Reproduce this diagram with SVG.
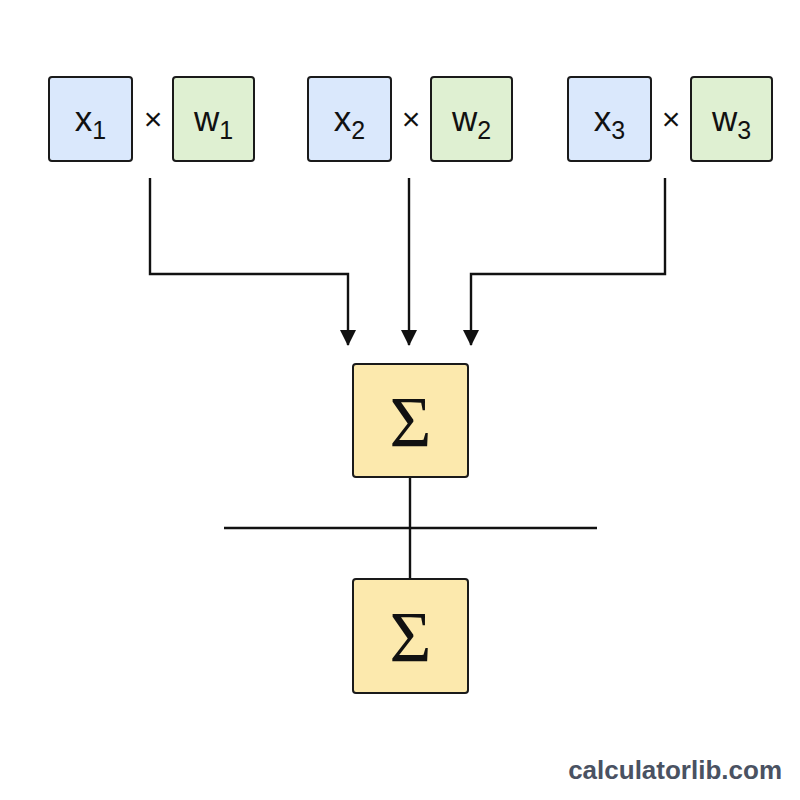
<svg xmlns="http://www.w3.org/2000/svg" width="800" height="800" viewBox="0 0 800 800">
<style>
.box{stroke:#1a1a1a;stroke-width:2}
.x{fill:#dae8fc}
.w{fill:#dff0d2}
.s{fill:#fce9ad}
.lbl{font-family:"Liberation Sans",Arial,sans-serif;font-size:35px;fill:#111}
.sub{font-size:25px}
.times{font-family:"Liberation Sans",Arial,sans-serif;font-size:32px;fill:#111}
.sig{font-family:"Liberation Serif","Times New Roman",serif;font-size:72px;fill:#111}
.ln{stroke:#111;stroke-width:2.4;fill:none}
</style>
<defs>
<marker id="ah" markerWidth="16" markerHeight="16" refX="15" refY="8" orient="auto" markerUnits="userSpaceOnUse">
<path d="M0,0 L16,8 L0,16 Z" fill="#111"/>
</marker>
</defs>
<rect width="800" height="800" fill="#ffffff"/>
<g id="x1"><rect class="box x" x="49" y="77" width="83" height="84" rx="3"/><text class="lbl" x="90.5" y="131" text-anchor="middle">x<tspan class="sub" dy="8">1</tspan></text></g>
<g id="w1"><rect class="box w" x="173" y="77" width="81" height="84" rx="3"/><text class="lbl" x="213.5" y="131" text-anchor="middle">w<tspan class="sub" dy="8">1</tspan></text></g>
<g id="x2"><rect class="box x" x="308" y="77" width="83" height="84" rx="3"/><text class="lbl" x="349.5" y="131" text-anchor="middle">x<tspan class="sub" dy="8">2</tspan></text></g>
<g id="w2"><rect class="box w" x="431" y="77" width="81" height="84" rx="3"/><text class="lbl" x="471.5" y="131" text-anchor="middle">w<tspan class="sub" dy="8">2</tspan></text></g>
<g id="x3"><rect class="box x" x="568" y="77" width="83" height="84" rx="3"/><text class="lbl" x="609.5" y="131" text-anchor="middle">x<tspan class="sub" dy="8">3</tspan></text></g>
<g id="w3"><rect class="box w" x="691" y="77" width="81" height="84" rx="3"/><text class="lbl" x="731.5" y="131" text-anchor="middle">w<tspan class="sub" dy="8">3</tspan></text></g>
<g id="ops">
<text class="times" x="153" y="130" text-anchor="middle">×</text>
<text class="times" x="411" y="130" text-anchor="middle">×</text>
<text class="times" x="671" y="130" text-anchor="middle">×</text>
</g>
<g id="connectors">
<path class="ln" d="M150,178 V274 H348 V345" marker-end="url(#ah)"/>
<path class="ln" d="M409,178 V345" marker-end="url(#ah)"/>
<path class="ln" d="M665,178 V274 H471 V345" marker-end="url(#ah)"/>
<path class="ln" d="M410,477 V579"/>
<path class="ln" d="M224,528 H597"/>
</g>
<g id="sum1"><rect class="box s" x="353" y="364" width="115" height="113" rx="3"/><text class="sig" x="410.5" y="446" text-anchor="middle">Σ</text></g>
<g id="sum2"><rect class="box s" x="353" y="579" width="115" height="114" rx="3"/><text class="sig" x="410.5" y="661" text-anchor="middle">Σ</text></g>
<text x="782" y="779" text-anchor="end" font-family="Liberation Sans,Arial,sans-serif" font-weight="bold" font-size="26" fill="#4a5262">calculatorlib.com</text>
</svg>
